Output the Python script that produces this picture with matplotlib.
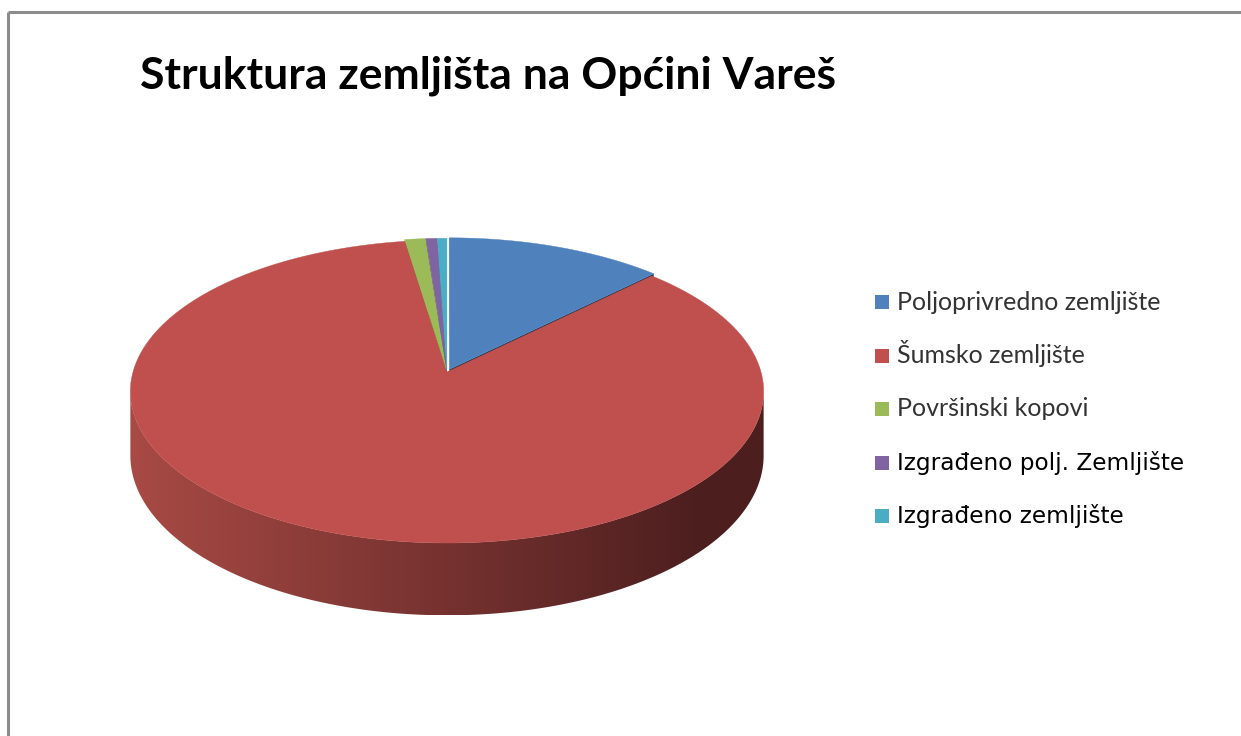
import numpy as np
import matplotlib
matplotlib.use('Agg')
import matplotlib.pyplot as plt
from matplotlib.patches import Polygon, Rectangle
from matplotlib.colors import to_rgb

title = "Struktura zemljišta na Općini Vareš"
categories = ["Poljoprivredno zemljište", "Šumsko zemljište", "Površinski kopovi",
              "Izgrađeno polj. Zemljište", "Izgrađeno zemljište"]
values = [12.6, 85.0, 1.2, 0.65, 0.55]
colors = ["#4F81BD", "#C0504D", "#9BBB59", "#8064A2", "#4BACC6"]
explode = [0.02, 0.0, 0.015, 0.015, 0.015]

fig = plt.figure(figsize=(12.41, 7.36), dpi=100)
ax = fig.add_axes([0, 0, 1, 1])
ax.set_xlim(0, 1241)
ax.set_ylim(736, 0)
ax.axis('off')

# 3D pie geometry (perspective projection)
X0, Y0 = 447, 372
B, A, K, D = 314, 149, 0.1287, 63


def proj(u, v, z=0.0):
    u = np.asarray(u, float)
    v = np.asarray(v, float)
    w = 1 + K * v
    return X0 + B * u / w, Y0 - (A * v - D * z) / w


def shade(c, f):
    r, g, b = to_rgb(c)
    return (r * f, g * f, b * f)


total = float(sum(values))
angles = np.concatenate([[0], np.cumsum(values) / total * 2 * np.pi])

# outer side wall (front, visible part), horizontal gradient
phi_r = np.arccos(-K)
phis = np.linspace(phi_r, 2 * np.pi - phi_r, 300)
tx, ty = proj(np.sin(phis), np.cos(phis), 0)
bx, by = proj(np.sin(phis[::-1]), np.cos(phis[::-1]), 1)
side_xy = np.column_stack([np.concatenate([tx, bx]), np.concatenate([ty, by])])
side_poly = Polygon(side_xy, closed=True, facecolor='none', edgecolor='none')
ax.add_patch(side_poly)
xl, xr = side_xy[:, 0].min(), side_xy[:, 0].max()
xs = np.linspace(xl, xr, 400)
c_left = np.array([0.66, 0.29, 0.27])
c_right = np.array([0.30, 0.12, 0.12])
t = np.clip((xs - xl) / (700 - xl), 0, 1)[:, None]
grad = (c_left * (1 - t) + c_right * t)[None, :, :]
im = ax.imshow(grad, extent=[xl, xr, side_xy[:, 1].max(), side_xy[:, 1].min()],
               aspect='auto', zorder=1, interpolation='bilinear')
im.set_clip_path(side_poly)
ax.set_xlim(0, 1241)
ax.set_ylim(736, 0)

for i, (val, col) in enumerate(zip(values, colors)):
    a0, a1 = angles[i], angles[i + 1]
    mid = (a0 + a1) / 2
    ou, ov = explode[i] * np.sin(mid), explode[i] * np.cos(mid)
    # radial walls
    for a in (a0, a1):
        pu = [ou, ou + np.sin(a), ou + np.sin(a), ou]
        pv = [ov, ov + np.cos(a), ov + np.cos(a), ov]
        pz = [0, 0, 1, 1]
        wx, wy = zip(*[proj(u, v, z) for u, v, z in zip(pu, pv, pz)])
        ax.add_patch(Polygon(np.column_stack([wx, wy]), closed=True,
                             facecolor=shade(col, 0.45), edgecolor='none', zorder=2))
    # top face
    arc = np.linspace(a0, a1, max(3, int((a1 - a0) / 0.01)))
    u = np.concatenate([[ou], ou + np.sin(arc)])
    v = np.concatenate([[ov], ov + np.cos(arc)])
    px, py = proj(u, v, 0)
    ax.add_patch(Polygon(np.column_stack([px, py]), closed=True, facecolor=col,
                         edgecolor=col, linewidth=0.3, zorder=3))

# frame
ax.plot([8, 1241], [12, 12], color='#8c8c8c', lw=2.2, solid_capstyle='butt', zorder=0)
ax.plot([8, 8], [12, 736], color='#8c8c8c', lw=2.2, solid_capstyle='butt', zorder=0)

# title
ax.text(140, 88, title, fontsize=32, fontweight='bold', family=['Lato', 'DejaVu Sans'],
        color='black', ha='left', va='baseline')

# legend (manual layout)
LX, LY0, LDY, SQ = 875, 302, 53.5, 14
for i, (lab, col) in enumerate(zip(categories, colors)):
    cy = LY0 + i * LDY
    ax.add_patch(Rectangle((LX, cy - SQ / 2), SQ, SQ, facecolor=col, edgecolor='none', zorder=4))
    if i < 3:
        ax.text(LX + 22, cy + 7.5, lab, fontsize=18, family=['Lato', 'DejaVu Sans'],
                color='#333333', ha='left', va='baseline')
    else:
        ax.text(LX + 22, cy + 7.5, lab, fontsize=16.75, family=['DejaVu Sans'],
                color='black', ha='left', va='baseline')

fig.savefig('out.png', dpi=100)
